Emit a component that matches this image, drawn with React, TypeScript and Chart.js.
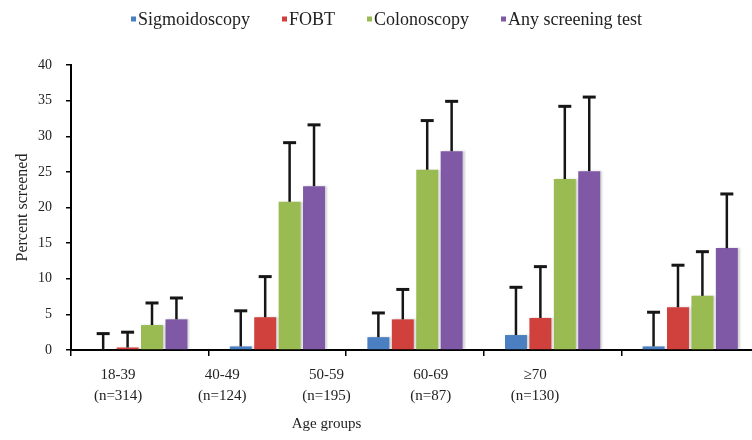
import React, { useEffect, useRef } from "react";
import { Chart, registerables } from "chart.js";

Chart.register(...registerables);

const categories = ["18-39", "40-49", "50-59", "60-69", "≥70"];
const sampleSizes = ["(n=314)", "(n=124)", "(n=195)", "(n=87)", "(n=130)"];
const seriesNames = ["Sigmoidoscopy", "FOBT", "Colonoscopy", "Any screening test"];
const seriesColors = ["#4a7fc1", "#d0413e", "#9abb52", "#7f59a5"];

const sigmoidoscopy = [0, 0.5, 1.8, 2.1, 0.5];
const sigmoidoscopyUpper = [2.3, 5.5, 5.2, 8.8, 5.3];
const fobt = [0.35, 4.6, 4.3, 4.5, 6.0];
const fobtUpper = [2.5, 10.3, 8.5, 11.7, 11.9];
const colonoscopy = [3.5, 20.8, 25.3, 24.0, 7.6];
const colonoscopyUpper = [6.6, 29.1, 32.2, 34.2, 13.8];
const anyTest = [4.3, 23.0, 27.9, 25.1, 14.3];
const anyTestUpper = [7.3, 31.6, 34.9, 35.5, 21.9];

const yMin = 0;
const yMax = 40;
const yStep = 5;

const seriesValues = [sigmoidoscopy, fobt, colonoscopy, anyTest];
const seriesUpper = [sigmoidoscopyUpper, fobtUpper, colonoscopyUpper, anyTestUpper];

const FONT = '"Liberation Serif", "Times New Roman", serif';
const TEXT = "#222";

const barShadowPlugin = {
  id: "barShadow",
  beforeDatasetsDraw(chart: any) {
    const ctx = chart.ctx;
    ctx.save();
    ctx.shadowColor = "rgba(0,0,0,0.18)";
    ctx.shadowOffsetX = 2;
    ctx.shadowOffsetY = 0;
    ctx.shadowBlur = 2;
  },
  afterDatasetsDraw(chart: any) {
    chart.ctx.restore();
  },
};

const errorBarPlugin = {
  id: "errorBars",
  afterDatasetsDraw(chart: any) {
    const ctx = chart.ctx;
    const yScale = chart.scales.y;
    ctx.save();
    ctx.strokeStyle = "#161616";
    chart.data.datasets.forEach((_ds: any, i: number) => {
      const meta = chart.getDatasetMeta(i);
      meta.data.forEach((el: any, j: number) => {
        const upper = seriesUpper[i][j];
        const yTop = yScale.getPixelForValue(upper);
        const yBase = el.y;
        ctx.lineWidth = 2.5;
        ctx.beginPath();
        ctx.moveTo(el.x, yBase);
        ctx.lineTo(el.x, yTop);
        ctx.stroke();
        ctx.lineWidth = 3;
        ctx.beginPath();
        ctx.moveTo(el.x - 6.5, yTop);
        ctx.lineTo(el.x + 6.5, yTop);
        ctx.stroke();
      });
    });
    ctx.restore();
  },
};

const legendPlugin = {
  id: "topLegend",
  afterDraw(chart: any) {
    const ctx = chart.ctx;
    ctx.save();
    ctx.font = `18px ${FONT}`;
    ctx.textBaseline = "alphabetic";
    ctx.textAlign = "left";
    let x = 131;
    seriesNames.forEach((name, i) => {
      ctx.fillStyle = seriesColors[i];
      ctx.fillRect(x, 16.5, 5, 5);
      ctx.fillStyle = TEXT;
      ctx.fillText(name, x + 7, 25);
      x += 7 + ctx.measureText(name).width + 32;
    });
    ctx.restore();
  },
};

const xTitlePlugin = {
  id: "xTitle",
  afterDraw(chart: any) {
    const ctx = chart.ctx;
    const x2 = chart.scales.x2;
    ctx.save();
    ctx.font = `15px ${FONT}`;
    ctx.fillStyle = TEXT;
    ctx.textAlign = "center";
    ctx.textBaseline = "middle";
    ctx.fillText("Age groups", x2.getPixelForValue(2), 424);
    ctx.restore();
  },
};

export default function App() {
  const ref = useRef<HTMLCanvasElement | null>(null);

  useEffect(() => {
    if (!ref.current) return;
    const chart = new Chart(ref.current, {
      type: "bar",
      data: {
        labels: categories,
        datasets: seriesNames.map((name, i) => ({
          label: name,
          data: seriesValues[i],
          backgroundColor: seriesColors[i],
          borderWidth: 0,
          xAxisID: "x",
          yAxisID: "y",
          categoryPercentage: 0.71,
          barPercentage: 0.9,
        })),
      },
      options: {
        responsive: false,
        animation: false,
        events: [],
        layout: { padding: { left: 0, right: 11, top: 65, bottom: 0 } },
        plugins: {
          legend: { display: false },
          tooltip: { enabled: false },
        },
        scales: {
          x: {
            type: "category",
            offset: true,
            grid: {
              offset: true,
              drawOnChartArea: false,
              drawTicks: true,
              tickLength: 6,
              color: "#000",
              lineWidth: 1.5,
            },
            border: { display: true, color: "#000", width: 2 },
            ticks: { display: false },
            afterFit: (s: any) => {
              s.height = 6;
            },
          },
          x2: {
            type: "linear",
            position: "bottom",
            offset: false,
            min: -0.452,
            max: 6.149,
            grid: { display: false, offset: false },
            border: { display: false },
            afterBuildTicks: (s: any) => {
              s.ticks = categories.map((_c, i) => ({ value: i }));
            },
            ticks: {
              autoSkip: false,
              maxRotation: 0,
              padding: 1,
              color: TEXT,
              font: { family: FONT, size: 15, lineHeight: 1.4 },
              callback: (v: any) => [categories[v], sampleSizes[v]],
            },
            afterFit: (s: any) => {
              s.height = 84;
            },
          },
          y: {
            min: yMin,
            max: yMax,
            ticks: {
              stepSize: yStep,
              padding: 14,
              color: TEXT,
              font: { family: FONT, size: 14 },
            },
            grid: {
              drawOnChartArea: false,
              drawTicks: true,
              tickLength: 5,
              color: "#000",
              lineWidth: 1.5,
            },
            border: { display: true, color: "#000", width: 2 },
            title: {
              display: true,
              text: "Percent screened",
              color: TEXT,
              font: { family: FONT, size: 16 },
              padding: { top: 13, bottom: 0 },
            },
            afterFit: (s: any) => {
              s.width = 71;
            },
          },
        },
      },
      plugins: [barShadowPlugin, errorBarPlugin, legendPlugin, xTitlePlugin],
    });
    return () => chart.destroy();
  }, []);

  return (
    <div
      style={{
        position: "absolute",
        left: 0,
        top: 0,
        width: 752,
        height: 440,
        overflow: "hidden",
        background: "#fff",
      }}
    >
      <canvas ref={ref} width={770} height={440} style={{ width: 770, height: 440, display: "block" }} />
    </div>
  );
}
